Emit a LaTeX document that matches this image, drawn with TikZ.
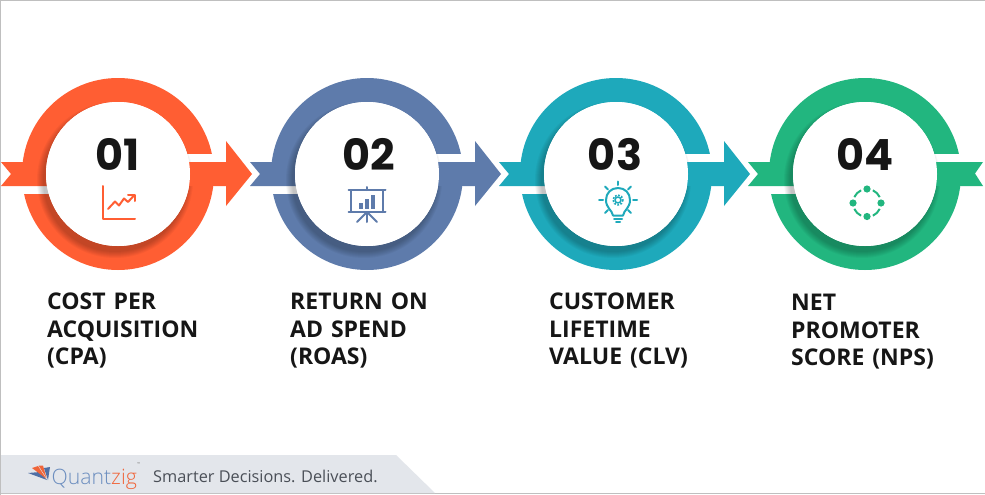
\documentclass[tikz,border=0pt]{standalone}
\usepackage{fontspec}
\setmainfont{Open Sans}
\newfontfamily\numfont{Poppins}
\newfontfamily\footfont{Open Sans}
\newfontfamily\brandfont{Open Sans Light}
\definecolor{cA}{HTML}{FF5E33}
\definecolor{cB}{HTML}{5E7BAB}
\definecolor{cC}{HTML}{1EA9BB}
\definecolor{cD}{HTML}{22B67F}
\definecolor{ink}{HTML}{161616}
\definecolor{footbg}{HTML}{E3E6EB}
\definecolor{foottext}{HTML}{4A4F57}
\definecolor{brandblue}{HTML}{6C8EBF}
\definecolor{brandred}{HTML}{F0653A}
\definecolor{logoblue}{HTML}{4F6FA5}
\newcommand{\wideword}{\spaceskip 8pt\relax}
\tikzset{
 lab/.style={font=\fontsize{23pt}{27.5pt}\selectfont\bfseries\wideword,align=left,anchor=north west,text=ink,inner sep=0pt},
 num/.style={font=\numfont\fontsize{43pt}{43pt}\selectfont\bfseries,text=ink,inner sep=0pt},
 icon/.style={line width=2pt,line cap=round,line join=round},
 frameline/.style={draw=black!25,line width=1pt}
}
% #1 centre x, #2 colour
\newcommand{\ringunit}[2]{%
 \begin{scope}[shift={(#1,174)}]
  \fill[#2] (0,0) circle[radius=96];
  \fill[white] (-100,12) rectangle (-60,20);
  \fill[white] (60,-20) rectangle (100,-12);
  \fill[#2] (-117,-12) -- (-60,-12) -- (-60,12) -- (-117,12) -- (-107,0) -- cycle;
  \foreach \sr in {78,77,...,72}{\fill[black,opacity=0.035] (-3,6) circle[radius=\sr];}
  \fill[white] (0,0) circle[radius=72];
 \end{scope}}
\newcommand{\headunit}[2]{%
 \fill[#2] (#1+60,162) -- (#1+108,162) -- (#1+108,141) -- (#1+134,174) -- (#1+108,206) -- (#1+108,186) -- (#1+60,186) -- cycle;
 \fill[white] (#1,174) circle[radius=72];}
\begin{document}
\begin{tikzpicture}[x=1pt,y=-1pt]
\useasboundingbox (0,0) rectangle (985,495);
\fill[white] (0,0) rectangle (985,495);
\draw[frameline] (0.5,495) -- (0.5,0.5) -- (985,0.5);
\draw[frameline] (0,493.5) -- (985,493.5);

\ringunit{118}{cA}\headunit{118}{cA}
\ringunit{367}{cB}\headunit{367}{cB}
\ringunit{616}{cC}\headunit{616}{cC}
\ringunit{865}{cD}
% right-hand end of the last band
\fill[cD] (925,162) -- (983,162) -- (975,173.5) -- (983,186) -- (925,186) -- cycle;
\fill[white] (865,174) circle[radius=72];

% numbers
\node[num] (n1) at (118,154.5) {01};
\node[num] (n2) at (369,154.5) {02};
\node[num] (n3) at (615,154.5) {03};
\node[num] (n4) at (865,154.5) {04};

% icon 1: chart
\begin{scope}[icon,cA]
 \draw (102.5,186) -- (102.5,218.5) -- (135,218.5);
 \draw (108,209) -- (115,201.5) -- (119,205.5) -- (124,198.5) -- (128,202) -- (134,195.5);
 \draw (128,195) -- (134.5,195) -- (134.5,201);
\end{scope}
% icon 2: presentation board
\begin{scope}[icon,cB]
 \draw (348.5,190) -- (385.5,190);
 \draw (348.5,212) -- (385.5,212);
 \draw (351,190) -- (351,212);
 \draw (383,190) -- (383,212);
 \draw (367,187) -- (367,190);
 \draw (367,212) -- (367,222);
 \draw (367,212) -- (357,222);
 \draw (367,212) -- (377,222);
 \fill (359,203) rectangle (363,208.5);
 \fill (365,199) rectangle (369,208.5);
 \fill (371,194.5) rectangle (375,208.5);
\end{scope}
% icon 3: light bulb with gear
\begin{scope}[icon,cC]
 \draw (613,215.5) .. controls (612,210) and (606,208) .. (606,200)
   .. controls (606,193) and (611,188) .. (618,188)
   .. controls (625,188) and (630,193) .. (630,200)
   .. controls (630,208) and (624,210) .. (623,215.5) -- cycle;
 \draw (614,219) -- (622,219);
 \draw (616,222) -- (620,222);
 \draw (618,181.5) -- (618,185);
 \draw (599,200) -- (603,200);
 \draw (633,200) -- (637,200);
 \draw (605,186.5) -- (608,189.5);
 \draw (631,186.5) -- (628,189.5);
 \draw (605,213) -- (608,210);
 \draw (631,213) -- (628,210);
 \draw[line width=1.6pt] (618,200) circle[radius=3];
 \draw[line width=1.6pt,line cap=butt,dash pattern=on 1.8pt off 1.5pt] (618,200) circle[radius=5];
\end{scope}
% icon 4: four linked dots
\begin{scope}[icon,cD]
 \fill (867,189) circle[radius=3.6];
 \fill (881,203) circle[radius=3.6];
 \fill (867,216.5) circle[radius=3.6];
 \fill (853,203) circle[radius=3.6];
 \draw[line cap=butt] (867,203) ++(25:14) arc[start angle=25,end angle=65,radius=14];
 \draw[line cap=butt] (867,203) ++(115:14) arc[start angle=115,end angle=155,radius=14];
 \draw[line cap=butt] (867,203) ++(205:14) arc[start angle=205,end angle=245,radius=14];
 \draw[line cap=butt] (867,203) ++(295:14) arc[start angle=295,end angle=335,radius=14];
\end{scope}

% labels
\node[lab] (l1) at (47,293) {COST PER\\ACQUISITION\\(CPA)};
\node[lab] (l2) at (290,293) {RETURN ON\\AD SPEND\\(ROAS)};
\node[lab] (l3) at (549,293) {CUSTOMER\\LIFETIME\\VALUE (CLV)};
\node[lab] (l4) at (791,294) {NET\\PROMOTER\\SCORE (NPS)};

% footer
\fill[footbg] (1,455) -- (396,455) -- (435,493) -- (1,493) -- cycle;
\fill[logoblue] (28,473) -- (40,472) -- (47,480) -- cycle;
\fill[logoblue] (44,468) -- (50,467) -- (48,480) -- cycle;
\fill[brandred] (32,468) -- (38,466) -- (46,478.5) -- cycle;
\fill[brandred] (38.5,465.5) -- (43,465.5) -- (46.5,478) -- cycle;
\node[font=\brandfont\fontsize{21.2pt}{21.2pt}\selectfont,anchor=base west,inner sep=0pt] (brand) at (51.5,484)
  {\textcolor{brandblue}{Quant}\textcolor{brandred}{zig}};
\node[font=\footfont\fontsize{4pt}{4pt}\selectfont,text=black!50,anchor=west,inner sep=0pt] (tm) at (137,464) {™};
\node[font=\footfont\fontsize{16.3pt}{16.3pt}\selectfont,text=foottext,anchor=base west,inner sep=0pt] (tag) at (153,482) {Smarter Decisions. Delivered.};
\end{tikzpicture}
\end{document}
